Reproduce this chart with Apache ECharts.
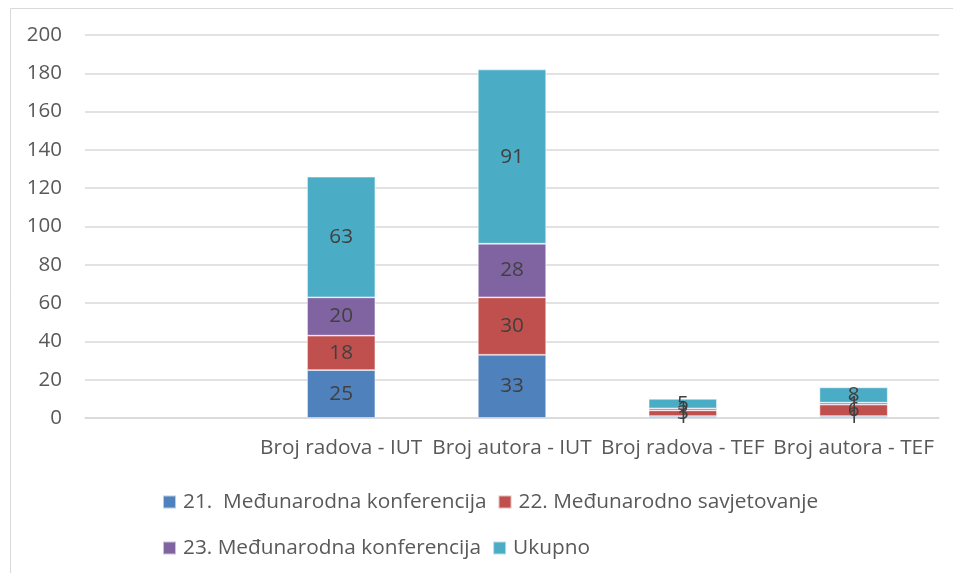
<!DOCTYPE html>
<html>
<head>
<meta charset="utf-8">
<script src="https://cdn.jsdelivr.net/npm/echarts@6/dist/echarts.min.js"></script>
<style>html,body{margin:0;padding:0;background:#fff;}#c{width:953px;height:573px;}</style>
</head>
<body>
<div id="c"></div>
<script>
const categories = ['', 'Broj radova - IUT', 'Broj autora - IUT', 'Broj radova - TEF', 'Broj autora - TEF'];
const seriesNames = ['21.  Međunarodna konferencija', '22. Međunarodno savjetovanje', '23. Međunarodna konferencija', 'Ukupno'];
const s21 = [null, 25, 33, 1, 1];
const s22 = [null, 18, 30, 3, 6];
const s23 = [null, 20, 28, 1, 1];
const sUk = [null, 63, 91, 5, 8];
const colors = ['#4F81BD', '#C0504D', '#8064A2', '#4BACC6'];
const yTicks = {min: 0, max: 200, interval: 20};

const FONT = '"Open Sans", "Noto Sans", sans-serif';
const values = [s21, s22, s23, sUk];
const chart = echarts.init(document.getElementById('c'));
const legendText = {fontFamily: FONT, fontSize: 20.8, color: '#595959', lineHeight: 24, padding: [0, 0, 0, 2]};
chart.setOption({
  animation: false,
  backgroundColor: '#fff',
  graphic: [{
    type: 'rect', left: 8, top: 6, shape: {width: 1000, height: 700},
    style: {fill: 'none', stroke: '#d9d9d9', lineWidth: 1}, silent: true
  }],
  grid: {left: 85, right: 14, top: 35, bottom: 155, containLabel: false},
  legend: [
    {data: seriesNames.slice(0, 2), left: 162, top: 490, padding: 0, itemWidth: 13, itemHeight: 13, itemGap: 11,
     icon: 'rect', textStyle: legendText},
    {data: seriesNames.slice(2, 4), left: 162, top: 536, padding: 0, itemWidth: 13, itemHeight: 13, itemGap: 11,
     icon: 'rect', textStyle: legendText}
  ],
  xAxis: {
    type: 'category', data: categories,
    axisLine: {lineStyle: {color: '#d9d9d9', width: 1.5}},
    axisTick: {show: false},
    axisLabel: {interval: 0, margin: 20, fontFamily: FONT, fontSize: 20.8, color: '#595959'}
  },
  yAxis: {
    type: 'value', min: yTicks.min, max: yTicks.max, interval: yTicks.interval,
    axisLine: {show: false}, axisTick: {show: false},
    splitLine: {lineStyle: {color: '#d9d9d9', width: 1.5}},
    axisLabel: {margin: 23, fontFamily: FONT, fontSize: 20.5, color: '#595959'}
  },
  series: values.map((v, i) => ({
    name: seriesNames[i], type: 'bar', stack: 'all', data: v,
    barWidth: '40%',
    itemStyle: {color: colors[i], borderColor: 'rgba(255,255,255,0.6)', borderWidth: 0.8},
    label: {show: true, position: 'inside', fontFamily: FONT, fontSize: 20.7, color: '#404040'}
  }))
});
</script>
</body>
</html>
